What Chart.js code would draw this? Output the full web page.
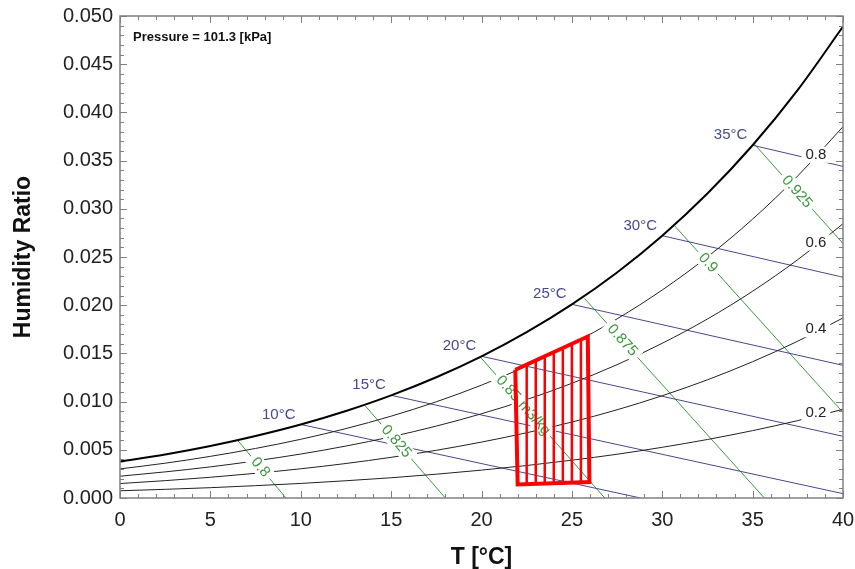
<!DOCTYPE html>
<html>
<head>
<meta charset="utf-8">
<script src="https://cdn.jsdelivr.net/npm/chart.js@4.4.1/dist/chart.umd.min.js"></script>
<style>
  html, body { margin: 0; padding: 0; background: #fff; }
  #wrap { width: 855px; height: 569px; }
</style>
</head>
<body>
<div id="wrap"><canvas id="psychroChart"></canvas></div>
<script>
// dry bulb temperatures used for the curves
const tempC = [0, 2.5, 5, 7.5, 10, 12.5, 15, 17.5, 20, 22.5, 25, 27.5, 30, 32.5, 35, 37.5, 40];
const wSaturation = [0.00378, 0.00452, 0.00540, 0.00644, 0.00763, 0.00903, 0.01065, 0.01253, 0.01470, 0.01721, 0.02009, 0.02340, 0.02721, 0.03158, 0.03659, 0.04234, 0.04890];
const wRh80 = [0.00302, 0.00361, 0.00432, 0.00514, 0.00609, 0.00720, 0.00849, 0.00998, 0.01171, 0.01369, 0.01597, 0.01858, 0.02158, 0.02501, 0.02893, 0.03342, 0.03852];
const wRh60 = [0.00226, 0.00271, 0.00323, 0.00385, 0.00456, 0.00539, 0.00635, 0.00746, 0.00874, 0.01021, 0.01190, 0.01383, 0.01605, 0.01857, 0.02145, 0.02473, 0.02845];
const wRh40 = [0.00150, 0.00180, 0.00215, 0.00256, 0.00303, 0.00358, 0.00422, 0.00495, 0.00580, 0.00677, 0.00788, 0.00915, 0.01061, 0.01226, 0.01414, 0.01627, 0.01868];
const wRh20 = [0.00075, 0.00090, 0.00107, 0.00128, 0.00151, 0.00179, 0.00210, 0.00247, 0.00289, 0.00337, 0.00392, 0.00454, 0.00526, 0.00607, 0.00699, 0.00803, 0.00920];

// relative humidity labels (near right edge)
const rhLabels = ['0.8', '0.6', '0.4', '0.2'];
const rhLabelT = [38.5, 38.5, 38.5, 38.5];
const rhLabelW = [0.0356, 0.0265, 0.0175, 0.0088];

// wet bulb lines
const wetBulbLabels = ['10°C', '15°C', '20°C', '25°C', '30°C', '35°C'];
const wetBulbStartT = [10, 15, 20, 25, 30, 35];
const wetBulbStartW = [0.00763, 0.01065, 0.01470, 0.02009, 0.02721, 0.03659];
const wetBulbEndT = [28.8, 40, 40, 40, 40, 40];
const wetBulbEndW = [0, 0.00045, 0.0064, 0.01376, 0.0229, 0.0344];

// specific volume lines
const volumeLabels = ['0.8', '0.825', '0.85 m3/kg', '0.875', '0.9', '0.925'];
const volumeStartT = [6.5, 13.55, 19.92, 25.7, 30.7, 35.1];
const volumeStartW = [0.0060, 0.0096, 0.01465, 0.0207, 0.0282, 0.0367];
const volumeEndT = [9.18, 18.0, 26.82, 35.65, 40, 40];
const volumeEndW = [0, 0, 0, 0, 0.00888, 0.0264];
const volumeLabelAt = [0.47, 0.39, 0.345, 0.21, 0.197, 0.48];

// comfort zone (red)
const zoneT = [21.87, 25.88, 25.97, 22.0, 21.87];
const zoneW = [0.0133, 0.01675, 0.00165, 0.0014, 0.0133];
const hatchT = [22.5, 23, 23.5, 24, 24.5, 25, 25.5];
const hatchTopW = [0.01384, 0.01427, 0.0147, 0.01513, 0.01556, 0.01599, 0.01642];
const hatchBottomW = [0.00143, 0.00146, 0.00149, 0.00152, 0.00156, 0.00159, 0.00162];

const FONT = "'Liberation Sans', Arial, sans-serif";
const BLUE = '#48488e';
const GREEN = '#3c963c';

Chart.defaults.font.family = FONT;

function pts(xs, ys) {
    return xs.map((x, i) => ({ x: x, y: ys[i] }));
}

// red datasets first: index 0 draws on top
const datasets = [];
datasets.push({ data: pts(zoneT, zoneW), borderColor: '#ff0000', borderWidth: 4, borderJoinStyle: 'miter' });
hatchT.forEach((t, i) => {
    datasets.push({ data: [{ x: t, y: hatchBottomW[i] }, { x: t, y: hatchTopW[i] }], borderColor: '#ff0000', borderWidth: 2.5 });
});
const labelLayerIndex = datasets.length;
datasets.push({ data: pts(tempC, wSaturation), borderColor: '#000', borderWidth: 2, cubicInterpolationMode: 'monotone' });
[wRh80, wRh60, wRh40, wRh20].forEach(w => {
    datasets.push({ data: pts(tempC, w), borderColor: '#222', borderWidth: 1, cubicInterpolationMode: 'monotone' });
});
wetBulbStartT.forEach((t, i) => {
    datasets.push({ data: [{ x: t, y: wetBulbStartW[i] }, { x: wetBulbEndT[i], y: wetBulbEndW[i] }], borderColor: BLUE, borderWidth: 1 });
});
volumeStartT.forEach((t, i) => {
    datasets.push({ data: [{ x: t, y: volumeStartW[i] }, { x: volumeEndT[i], y: volumeEndW[i] }], borderColor: GREEN, borderWidth: 1 });
});

function boxedText(ctx, text, x, y, angle, color) {
    ctx.save();
    ctx.translate(x, y);
    ctx.rotate(angle);
    const w = ctx.measureText(text).width;
    ctx.fillStyle = '#fff';
    ctx.fillRect(-w / 2 - 4, -8, w + 8, 16);
    ctx.fillStyle = color;
    ctx.fillText(text, 0, 0);
    ctx.restore();
}

const psychroLabels = {
    id: 'psychroLabels',
    afterDatasetDraw(chart, args) {
        if (args.index !== labelLayerIndex) return;
        const ctx = chart.ctx;
        const xs = chart.scales.x, ys = chart.scales.y;
        const area = chart.chartArea;
        ctx.save();
        ctx.beginPath();
        ctx.rect(area.left, area.top, area.right - area.left, area.bottom - area.top);
        ctx.clip();
        ctx.font = '15px ' + FONT;
        ctx.textAlign = 'center';
        ctx.textBaseline = 'middle';

        // rh labels
        rhLabels.forEach((txt, i) => {
            boxedText(ctx, txt, xs.getPixelForValue(rhLabelT[i]), ys.getPixelForValue(rhLabelW[i]), 0, '#222');
        });

        // volume labels, rotated along their lines
        volumeLabels.forEach((txt, i) => {
            const x0 = xs.getPixelForValue(volumeStartT[i]), y0 = ys.getPixelForValue(volumeStartW[i]);
            const x1 = xs.getPixelForValue(volumeEndT[i]), y1 = ys.getPixelForValue(volumeEndW[i]);
            const f = volumeLabelAt[i];
            const ang = Math.atan2(y1 - y0, x1 - x0);
            boxedText(ctx, txt, x0 + (x1 - x0) * f, y0 + (y1 - y0) * f, ang, GREEN);
        });

        // wet bulb labels
        ctx.fillStyle = BLUE;
        wetBulbLabels.forEach((txt, i) => {
            const x = xs.getPixelForValue(wetBulbStartT[i]), y = ys.getPixelForValue(wetBulbStartW[i]);
            ctx.fillText(txt, x - 22, y - 10);
        });

        ctx.font = 'bold 13px ' + FONT;
        ctx.textAlign = 'left';
        ctx.fillStyle = '#111';
        ctx.fillText('Pressure = 101.3 [kPa]', area.left + 13, area.top + 21);
        ctx.restore();
    },
    afterDraw(chart) {
        const ctx = chart.ctx;
        const xs = chart.scales.x, ys = chart.scales.y;
        const a = chart.chartArea;
        ctx.save();
        ctx.strokeStyle = '#808080';
        ctx.lineWidth = 1;
        ctx.beginPath();
        for (let t = 0; t <= 40; t += 1) {
            const px = Math.round(xs.getPixelForValue(t)) + 0.5;
            const len = t % 5 === 0 ? 7 : 4;
            ctx.moveTo(px, a.bottom); ctx.lineTo(px, a.bottom - len);
            ctx.moveTo(px, a.top); ctx.lineTo(px, a.top + len);
        }
        for (let k = 0; k <= 50; k += 1) {
            const py = Math.round(ys.getPixelForValue(k / 1000)) + 0.5;
            const len = k % 5 === 0 ? 7 : 4;
            ctx.moveTo(a.left, py); ctx.lineTo(a.left + len, py);
            ctx.moveTo(a.right, py); ctx.lineTo(a.right - len, py);
        }
        ctx.stroke();
        ctx.lineWidth = 1.5;
        ctx.strokeRect(a.left, a.top, a.right - a.left, a.bottom - a.top);
        ctx.restore();
    }
};

const ctx = document.getElementById('psychroChart').getContext('2d');
new Chart(ctx, {
    type: 'scatter',
    data: { datasets: datasets },
    options: {
        responsive: true,
        maintainAspectRatio: false,
        animation: false,
        showLine: true,
        elements: { point: { radius: 0, hoverRadius: 0 }, line: { tension: 0 } },
        layout: { padding: { top: 16, right: 12, left: 0, bottom: 0 } },
        plugins: { legend: { display: false }, tooltip: { enabled: false } },
        scales: {
            x: {
                type: 'linear', min: 0, max: 40,
                grid: { display: false, drawTicks: false },
                border: { display: false },
                ticks: { stepSize: 5, padding: 10, color: '#222', font: { size: 20 } },
                title: { display: true, text: 'T [°C]', color: '#111', font: { size: 23, weight: 'bold', lineHeight: 1 }, padding: { top: 0, bottom: 0 } },
                afterFit(scale) {
                    scale.height = 71;
                    scale.paddingLeft = 0;
                    scale.paddingRight = 0;
                }
            },
            y: {
                type: 'linear', min: 0, max: 0.05,
                grid: { display: false, drawTicks: false },
                border: { display: false },
                ticks: { stepSize: 0.005, padding: 7, color: '#222', font: { size: 20 }, callback: v => v.toFixed(3) },
                title: { display: true, text: 'Humidity Ratio', color: '#111', font: { size: 23, weight: 'bold', lineHeight: 1 }, padding: { top: 12, bottom: 0 } },
                afterFit(scale) {
                    scale.width = 120;
                    scale.paddingTop = 0;
                    scale.paddingBottom = 0;
                }
            }
        }
    },
    plugins: [psychroLabels]
});
</script>
</body>
</html>
